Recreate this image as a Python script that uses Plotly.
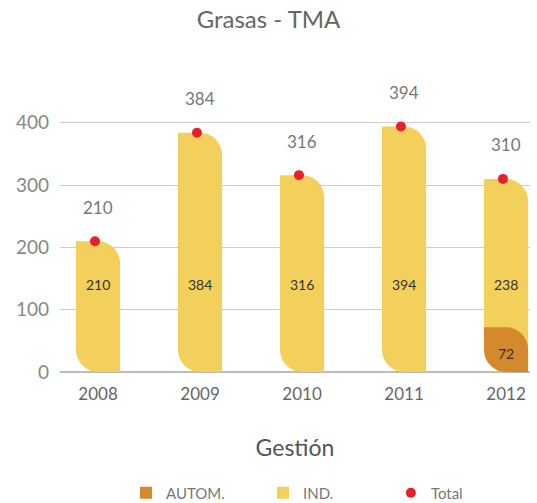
import plotly.graph_objects as go

years = ["2008", "2009", "2010", "2011", "2012"]
autom = [0, 0, 0, 0, 72]
ind = [210, 384, 316, 394, 238]
total = [210, 384, 316, 394, 310]

C_AUT = "#D4892C"
C_IND = "#F3D05B"
C_TOT = "#E8202A"
FONT = "Lato, 'Open Sans', sans-serif"

xs = list(range(len(years)))
HW = 0.216      # half bar width (x units)
RY = 36.0       # corner radius in y units
K = 0.5523


def bar_path(c, b, t):
    rx = HW
    ry = min(RY, (t - b) * 0.6)
    return (f"M {c-HW},{t} L {c+HW-rx},{t} "
            f"C {c+HW-rx+K*rx},{t} {c+HW},{t-ry+K*ry} {c+HW},{t-ry} "
            f"L {c+HW},{b} L {c-HW+rx},{b} "
            f"C {c-HW+rx-K*rx},{b} {c-HW},{b+ry-K*ry} {c-HW},{b+ry} Z")


fig = go.Figure()
shapes = []
annotations = []
for i, c in enumerate(xs):
    shapes.append(dict(type="path", xref="x", yref="y", path=bar_path(c, 0, total[i]),
                       fillcolor=C_IND, line=dict(width=0), layer="between"))
    if autom[i] > 0:
        shapes.append(dict(type="path", xref="x", yref="y", path=bar_path(c, 0, autom[i]),
                           fillcolor=C_AUT, line=dict(width=0), layer="between"))
        annotations.append(dict(x=c, y=autom[i] / 2, text=str(autom[i]), showarrow=False,
                                font=dict(size=14, color="#333", family=FONT), yshift=-4))
    annotations.append(dict(x=c, y=141, text=str(ind[i]), showarrow=False,
                            font=dict(size=14, color="#333", family=FONT)))
    annotations.append(dict(x=c, y=total[i], text=str(total[i]), showarrow=False,
                            yshift=34, font=dict(size=17, color="#777", family=FONT)))

fig.add_trace(go.Scatter(x=[None], y=[None], mode="markers", name="AUTOM.", legend="legend",
                         marker=dict(symbol="square", size=12, color=C_AUT)))
fig.add_trace(go.Scatter(x=[None], y=[None], mode="markers", name="IND.", legend="legend2",
                         marker=dict(symbol="square", size=12, color=C_IND)))
fig.add_trace(go.Scatter(x=[x - 0.03 for x in xs], y=total, mode="markers", name="Total",
                         legend="legend3",
                         marker=dict(size=10, color=C_TOT), cliponaxis=False))

leg_common = dict(orientation="h", xanchor="left", y=-0.405, yanchor="middle",
                  font=dict(size=15, color="#777", family=FONT), itemwidth=30,
                  bgcolor="rgba(0,0,0,0)")

fig.update_layout(
    width=537, height=503,
    margin=dict(l=60, r=7, t=73, b=131, autoexpand=False),
    paper_bgcolor="white", plot_bgcolor="white",
    title=dict(text="Grasas - TMA", x=0.5, xanchor="center", y=0.962, yanchor="middle",
               font=dict(size=24, color="#666", family=FONT)),
    shapes=shapes,
    annotations=annotations,
    showlegend=True,
    legend=dict(x=0.1404, **leg_common),
    legend2=dict(x=0.4319, **leg_common),
    legend3=dict(x=0.704, **leg_common),
    xaxis=dict(range=[-0.373, 4.235], tickmode="array", tickvals=xs, ticktext=years,
               showgrid=False, zeroline=False, showline=False, ticks="",
               ticklabelstandoff=10,
               tickfont=dict(size=17, color="#666", family=FONT),
               title=dict(text="Gestión", font=dict(size=23, color="#555", family=FONT), standoff=36)),
    yaxis=dict(range=[0, 480], tickvals=[0, 100, 200, 300, 400], showgrid=True,
               gridcolor="#cccccc", gridwidth=1, zeroline=True, zerolinecolor="#bbbbbb",
               tickfont=dict(size=19, color="#888", family=FONT), ticks="",
               ticklabelstandoff=10),
)

fig.write_html("out.html", config={"displayModeBar": False},
               post_script="document.body.style.margin='0px';")
